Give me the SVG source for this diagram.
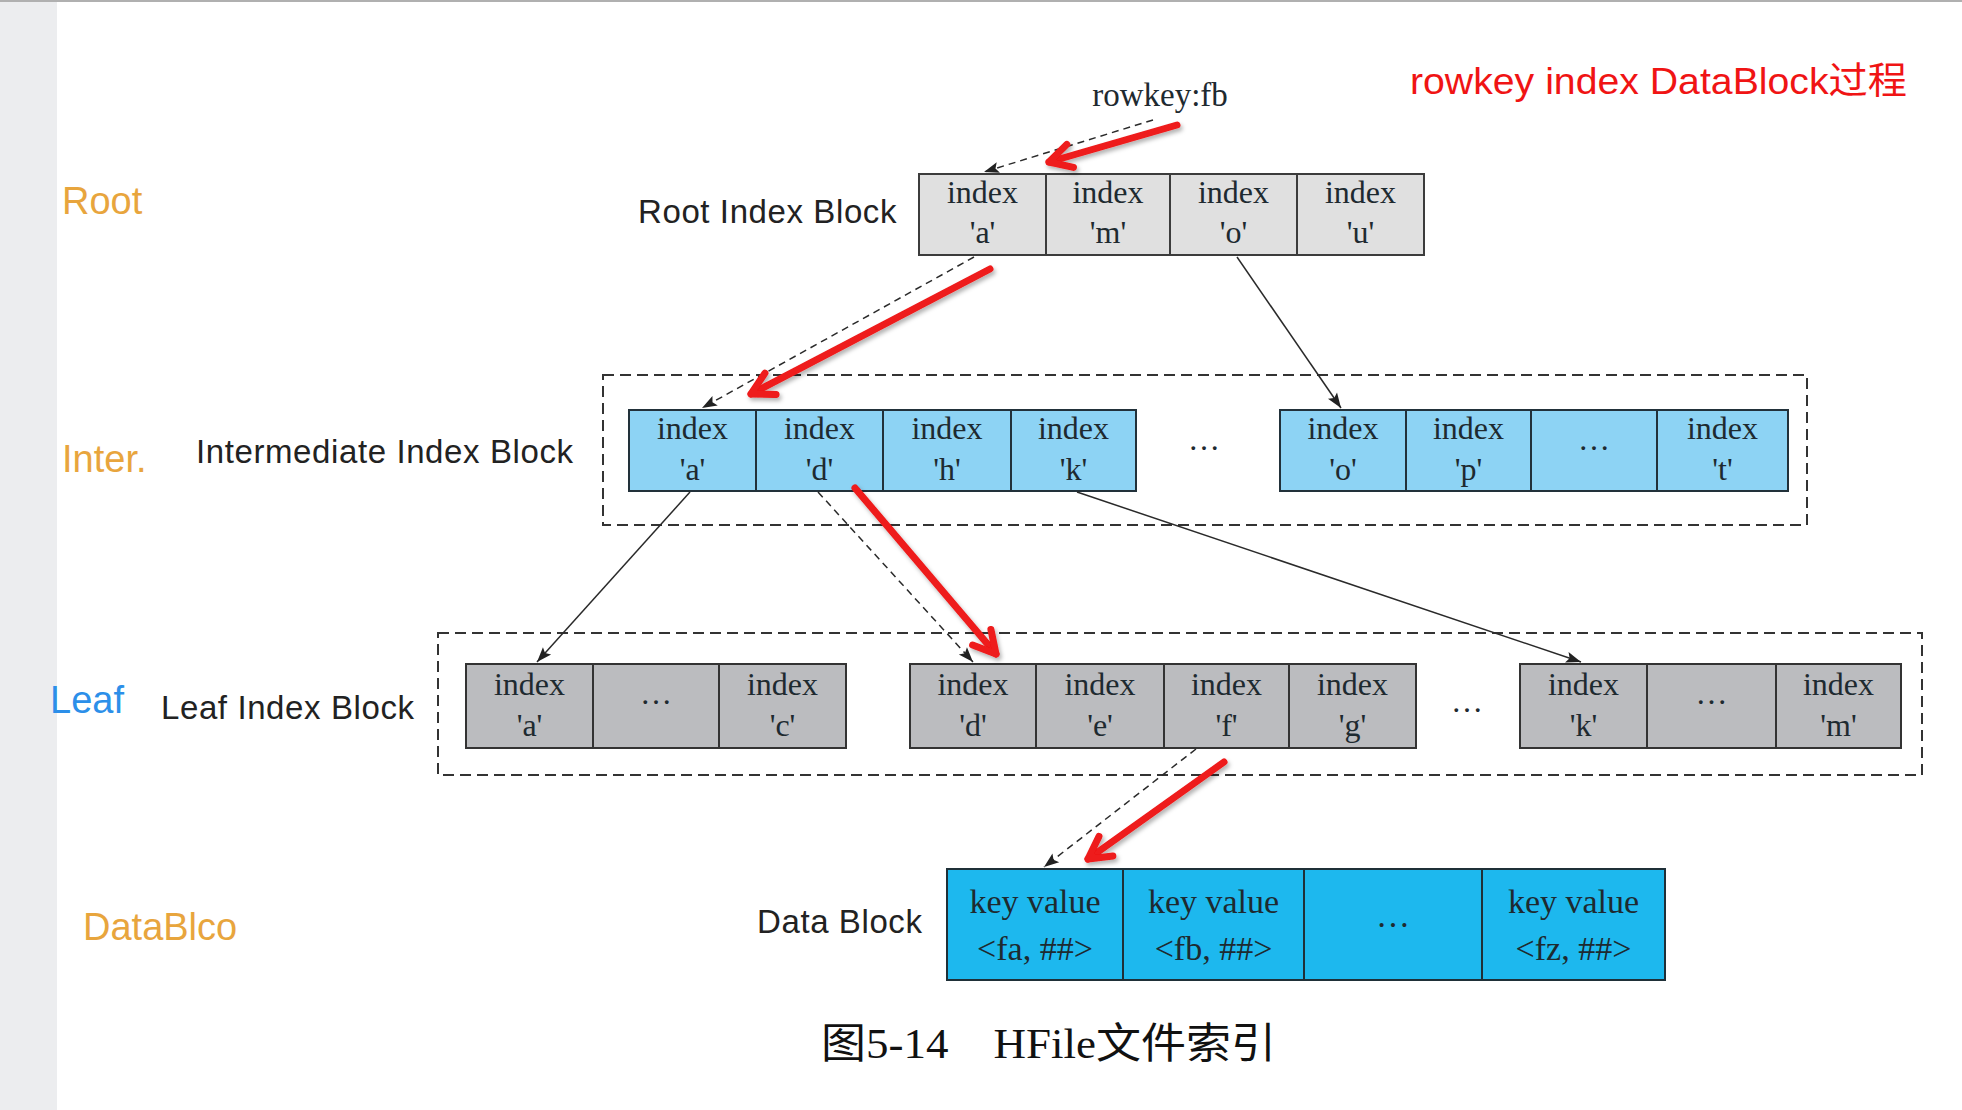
<svg xmlns="http://www.w3.org/2000/svg" width="1962" height="1110" viewBox="0 0 1962 1110">
<defs>
<style>
.lbl{font-family:"Liberation Sans",Arial,sans-serif;font-size:38px}
.orange{fill:#E8A53D}
.blue{fill:#2C8FE9}
.blk{font-family:"Liberation Sans",Arial,sans-serif;font-size:33px;fill:#222;letter-spacing:0.6px}
.t{font-family:"Liberation Serif","Times New Roman",serif;font-size:32px;fill:#1e2a30;text-anchor:middle}
.td{font-size:34px}
.root{fill:#E0E0E0;stroke:#3c3c3c;stroke-width:2}
.inter{fill:#8DD3F4;stroke:#22313a;stroke-width:2}
.leaf{fill:#BBBCBF;stroke:#333;stroke-width:2}
.data{fill:#1DB8EE;stroke:#1f3038;stroke-width:2}
.frame{fill:none;stroke:#333;stroke-width:2;stroke-dasharray:11 6}
.conn{stroke:#2a2a2a;stroke-width:1.5;fill:none;marker-end:url(#ah)}
.dash{stroke-dasharray:7 5}
.red{stroke:#EE1A1A;stroke-width:7;stroke-linecap:round;fill:none;marker-end:url(#rh)}
.title{font-family:"Liberation Sans",Arial,"Noto Sans CJK SC",sans-serif;font-size:37px;fill:#F01414}
.cap{font-family:"Liberation Serif","Times New Roman","Noto Sans CJK SC",serif;font-size:42px;fill:#111}
</style>
<marker id="ah" markerUnits="userSpaceOnUse" markerWidth="20" markerHeight="20" viewBox="-18 -10 20 20" refX="0" refY="0" orient="auto"><path d="M-15,-5.5 L0,0 L-15,5.5 L-12,0 Z" fill="#222"/></marker>
<marker id="rh" markerUnits="userSpaceOnUse" markerWidth="40" markerHeight="40" viewBox="-30 -20 40 40" refX="0" refY="0" orient="auto"><path d="M-22,-12 L0,0 L-22,12" fill="none" stroke="#EE1A1A" stroke-width="7" stroke-linecap="round" stroke-linejoin="round"/></marker>
<filter id="sh" x="-20%" y="-20%" width="140%" height="140%"><feDropShadow dx="2" dy="3" stdDeviation="2" flood-color="#000" flood-opacity="0.3"/></filter>
</defs>

<rect x="0" y="0" width="1962" height="1110" fill="#ffffff"/>
<rect x="0" y="0" width="57" height="1110" fill="#ECEDEF"/>
<rect x="0" y="0" width="1962" height="2" fill="#B0B0B0"/>

<g id="level-labels">
<text class="lbl orange" x="62" y="214">Root</text>
<text class="lbl orange" x="62" y="472">Inter.</text>
<text class="lbl blue" x="50" y="713">Leaf</text>
<text class="lbl orange" x="83" y="940">DataBlco</text>
</g>

<text class="title" x="1410" y="94" textLength="497" lengthAdjust="spacingAndGlyphs">rowkey index DataBlock过程</text>
<text id="rowkey" class="t" x="1160" y="106" style="font-size:33px">rowkey:fb</text>

<g id="root-block">
<text class="blk" x="638" y="223">Root Index Block</text>
<rect class="root" x="919" y="174" width="127" height="81"/>
<rect class="root" x="1046" y="174" width="124" height="81"/>
<rect class="root" x="1170" y="174" width="127" height="81"/>
<rect class="root" x="1297" y="174" width="127" height="81"/>
<text class="t" x="982.5" y="203">index</text><text class="t" x="982.5" y="243">'a'</text>
<text class="t" x="1108" y="203">index</text><text class="t" x="1108" y="243">'m'</text>
<text class="t" x="1233.5" y="203">index</text><text class="t" x="1233.5" y="243">'o'</text>
<text class="t" x="1360.5" y="203">index</text><text class="t" x="1360.5" y="243">'u'</text>
</g>

<g id="intermediate-block">
<text class="blk" x="196" y="463">Intermediate Index Block</text>
<rect class="frame" x="603" y="375" width="1204" height="150"/>
<rect class="inter" x="629" y="410" width="127" height="81"/>
<rect class="inter" x="756" y="410" width="127" height="81"/>
<rect class="inter" x="883" y="410" width="128" height="81"/>
<rect class="inter" x="1011" y="410" width="125" height="81"/>
<text class="t" x="692.5" y="439">index</text><text class="t" x="692.5" y="480">'a'</text>
<text class="t" x="819.5" y="439">index</text><text class="t" x="819.5" y="480">'d'</text>
<text class="t" x="947" y="439">index</text><text class="t" x="947" y="480">'h'</text>
<text class="t" x="1073.5" y="439">index</text><text class="t" x="1073.5" y="480">'k'</text>
<text class="t" x="1204" y="450">…</text>
<rect class="inter" x="1280" y="410" width="126" height="81"/>
<rect class="inter" x="1406" y="410" width="125" height="81"/>
<rect class="inter" x="1531" y="410" width="126" height="81"/>
<rect class="inter" x="1657" y="410" width="131" height="81"/>
<text class="t" x="1343" y="439">index</text><text class="t" x="1343" y="480">'o'</text>
<text class="t" x="1468.5" y="439">index</text><text class="t" x="1468.5" y="480">'p'</text>
<text class="t" x="1594" y="450">…</text>
<text class="t" x="1722.5" y="439">index</text><text class="t" x="1722.5" y="480">'t'</text>
</g>

<g id="leaf-block">
<text class="blk" x="161" y="719">Leaf Index Block</text>
<rect class="frame" x="438" y="633" width="1484" height="142"/>
<rect class="leaf" x="466" y="664" width="127" height="84"/>
<rect class="leaf" x="593" y="664" width="126" height="84"/>
<rect class="leaf" x="719" y="664" width="127" height="84"/>
<text class="t" x="529.5" y="695">index</text><text class="t" x="529.5" y="736">'a'</text>
<text class="t" x="656" y="704">…</text>
<text class="t" x="782.5" y="695">index</text><text class="t" x="782.5" y="736">'c'</text>
<rect class="leaf" x="910" y="664" width="126" height="84"/>
<rect class="leaf" x="1036" y="664" width="128" height="84"/>
<rect class="leaf" x="1164" y="664" width="125" height="84"/>
<rect class="leaf" x="1289" y="664" width="127" height="84"/>
<text class="t" x="973" y="695">index</text><text class="t" x="973" y="736">'d'</text>
<text class="t" x="1100" y="695">index</text><text class="t" x="1100" y="736">'e'</text>
<text class="t" x="1226.5" y="695">index</text><text class="t" x="1226.5" y="736">'f'</text>
<text class="t" x="1352.5" y="695">index</text><text class="t" x="1352.5" y="736">'g'</text>
<text class="t" x="1467" y="712">…</text>
<rect class="leaf" x="1520" y="664" width="127" height="84"/>
<rect class="leaf" x="1647" y="664" width="129" height="84"/>
<rect class="leaf" x="1776" y="664" width="125" height="84"/>
<text class="t" x="1583.5" y="695">index</text><text class="t" x="1583.5" y="736">'k'</text>
<text class="t" x="1711.5" y="704">…</text>
<text class="t" x="1838.5" y="695">index</text><text class="t" x="1838.5" y="736">'m'</text>
</g>

<g id="data-block">
<text class="blk" x="757" y="933">Data Block</text>
<rect class="data" x="947" y="869" width="176" height="111"/>
<rect class="data" x="1123" y="869" width="181" height="111"/>
<rect class="data" x="1304" y="869" width="178" height="111"/>
<rect class="data" x="1482" y="869" width="183" height="111"/>
<text class="t td" x="1035" y="913">key value</text><text class="t td" x="1035" y="960">&lt;fa, ##&gt;</text>
<text class="t td" x="1213.5" y="913">key value</text><text class="t td" x="1213.5" y="960">&lt;fb, ##&gt;</text>
<text class="t td" x="1393" y="927">…</text>
<text class="t td" x="1573.5" y="913">key value</text><text class="t td" x="1573.5" y="960">&lt;fz, ##&gt;</text>
</g>

<g id="connectors">
<line class="conn dash" x1="1153" y1="120" x2="984" y2="172"/>
<line class="conn dash" x1="974" y1="257" x2="702" y2="408"/>
<line class="conn" x1="1237" y1="257" x2="1341" y2="408"/>
<line class="conn" x1="690" y1="492" x2="537" y2="662"/>
<line class="conn dash" x1="818" y1="492" x2="973" y2="662"/>
<line class="conn" x1="1077" y1="492" x2="1581" y2="662"/>
<line class="conn dash" x1="1196" y1="749" x2="1044" y2="867"/>
<g filter="url(#sh)">
<line class="red" x1="1177" y1="125" x2="1049" y2="162"/>
<line class="red" x1="990" y1="269" x2="751" y2="394"/>
<line class="red" x1="855" y1="488" x2="996" y2="654"/>
<line class="red" x1="1224" y1="762" x2="1088" y2="859"/>
</g>
</g>

<text id="caption" class="cap" x="821" y="1058" textLength="455" lengthAdjust="spacingAndGlyphs">图5-14　HFile文件索引</text>
</svg>
